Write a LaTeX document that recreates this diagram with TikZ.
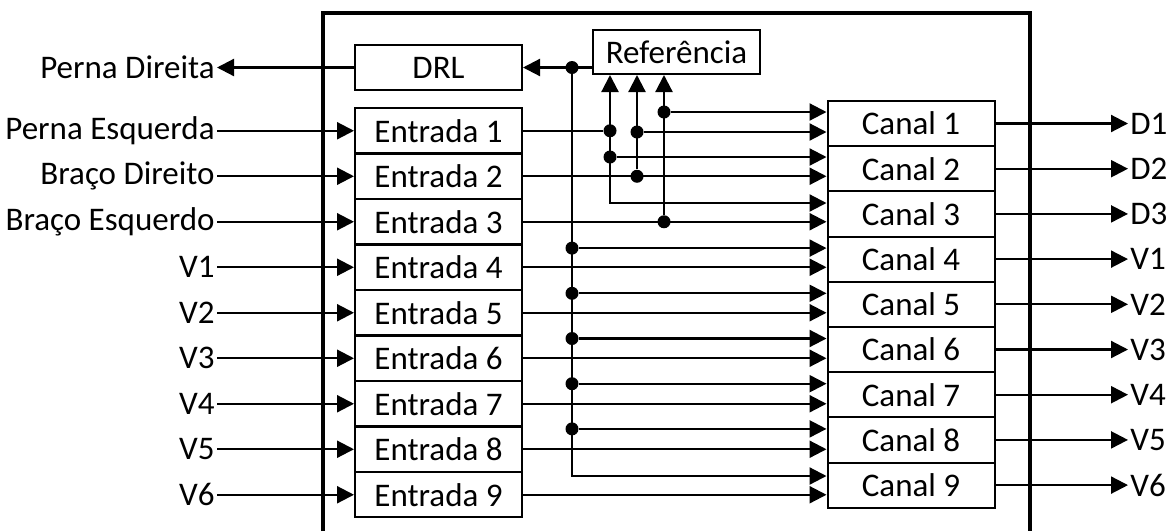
\documentclass[tikz,border=0pt]{standalone}
\usepackage{fontspec}
\setmainfont{Carlito}
\usetikzlibrary{arrows.meta}

\tikzset{
  blk/.style={draw, line width=1pt, minimum width=83.5pt, minimum height=22.6pt,
    inner sep=0pt, font=\fontsize{16.5}{19}\selectfont},
  lbl/.style={inner sep=1pt, font=\fontsize{16.5}{19}\selectfont},
  dot/.style={circle, fill, inner sep=0pt, minimum size=6.5pt},
  wire/.style={line width=1.1pt},
  arr/.style={wire, -{Triangle[length=8.5pt,width=8.5pt]}},
  arrboth/.style={wire, {Triangle[length=8.5pt,width=8.5pt]}-{Triangle[length=8.5pt,width=8.5pt]}}
}

\begin{document}
\begin{tikzpicture}[x=0.5pt,y=-0.5pt]
                \useasboundingbox (0,0) rectangle (1168,531);

                % housing
                \draw[line width=1.6pt] (323,531) -- (323,13) -- (1030,13) -- (1030,531);

                \node[blk, minimum height=22.5pt] (drl) at (438.5,67.5) {DRL};
                \node[blk, minimum height=22pt] (ref) at (676.5,52) {Referência};

                \foreach \k in {1,...,9}{
                  \node[blk] (e\k) at (438.5,{130.75+45.5*(\k-1)}) {Entrada \k};
                  \node[blk] (c\k) at (911,{123.5+45.2*(\k-1)}) {Canal \k};
                }

                % inputs
                \node[lbl, anchor=east] (pd) at (217,67.5) {Perna Direita};
                \draw[arr] (drl.west) -- (pd.east);
                \foreach \k/\t in {1/Perna Esquerda,2/Braço Direito,3/Braço Esquerdo,
                    4/V1,5/V2,6/V3,7/V4,8/V5,9/V6}{
                  \node[lbl, anchor=east] (in\k) at (217,{130.75+45.5*(\k-1)}) {\t};
                  \draw[arr] (in\k.east) -- (e\k.west);
                }

                % outputs
                \foreach \k/\t in {1/D1,2/D2,3/D3,4/V1,5/V2,6/V3,7/V4,8/V5,9/V6}{
                  \node[lbl, anchor=west] (out\k) at (1128,{123.5+45.2*(\k-1)}) {\t};
                  \draw[arr] (c\k.east) -- (out\k.west);
                }

                % reference bus
                \coordinate (refw) at (ref.west |- drl.east);
                \draw[arr] (refw) -- (drl.east);
                \node[dot] (b0) at (572,67.5) {};
                \draw[arr] (b0) |- (c9.west |- 0,476);
                \foreach \k in {4,...,8}{
                  \node[dot] (b\k) at (572,{112.5+45.2*(\k-1)}) {};
                  \draw[arr] (b\k) -- (c\k.west |- b\k);
                }
                \foreach \k in {2,...,9}{
                  \draw[arr] (e\k.east) -- (c\k.west |- e\k.east);
                }

                % limb leads
                \node[dot] (j1) at (610,130.75) {};
                \draw[wire] (e1.east) -- (j1);
                \coordinate (t1) at (610,203);
                \draw[arrboth] (t1 |- ref.south) |- (c3.west |- t1);
                \node[dot] (j2) at (610,157) {};
                \draw[arr] (j2) -- (c2.west |- j2);
                \node[dot] (j3) at (637,176.25) {};
                \draw[arr] (j3) -- (j3 |- ref.south);
                \node[dot] (j4) at (637,132) {};
                \draw[arr] (j4) -- (c1.west |- j4);
                \node[dot] (j5) at (664,221.75) {};
                \draw[arr] (j5) -- (j5 |- ref.south);
                \node[dot] (j6) at (664,112) {};
                \draw[arr] (j6) -- (c1.west |- j6);

\end{tikzpicture}
\end{document}
